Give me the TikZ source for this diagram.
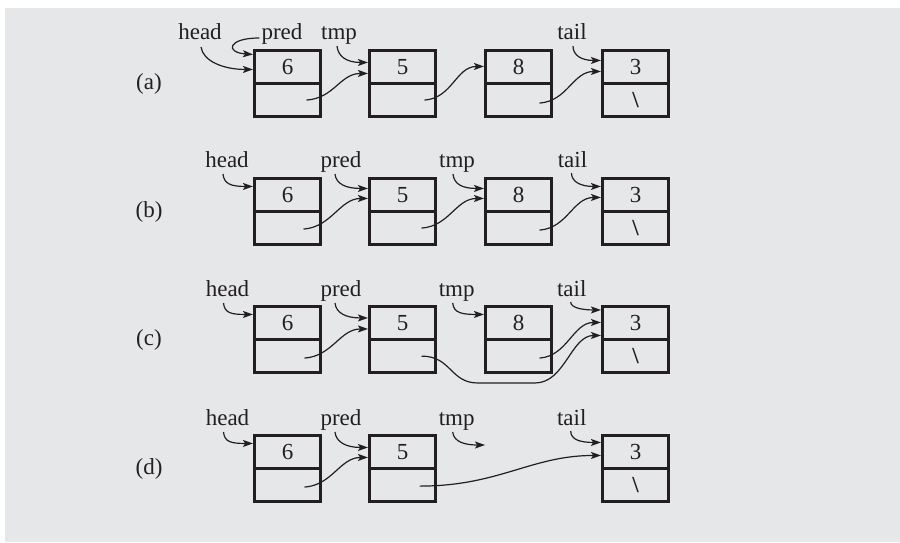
\documentclass[tikz,border=0pt]{standalone}
\usepackage{fontspec}
\setmainfont{Liberation Serif}
\usetikzlibrary{arrows.meta}
\definecolor{bg}{HTML}{E6E7E9}
\definecolor{ink}{HTML}{231F20}
\tikzset{
 cell/.style={draw=ink,line width=1.1pt,minimum width=65pt,minimum height=32pt,inner sep=0pt,font=\fontsize{23}{27}\selectfont,text=ink},
 frame/.style={draw=ink,line width=3pt},
 lbl/.style={inner sep=0pt,anchor=base,font=\fontsize{23}{27}\selectfont,text=ink},
 ptr/.style={draw=ink,line width=1.2pt,-{Stealth[length=10pt,width=7pt,inset=2.2pt]}},
}
\newcommand\lnode[4]{%
 \node[cell] (#1v) at (#2,#3) {#4};
 \node[cell,anchor=north] (#1p) at (#1v.south) {};
 \draw[frame] (#1v.north west) rectangle (#1p.south east);}
\newcommand\lastval{\bfseries\textbackslash}
\begin{document}
\begin{tikzpicture}[x=1pt,y=-1pt]
\useasboundingbox (0,0) rectangle (900,542);
\fill[bg] (5,8) rectangle (900,542);

% ---------- row (a)
\node[lbl,anchor=center] (la) at (149,84) {(a)};
\lnode{a1}{287.5}{67}{6}
\lnode{a2}{402.5}{67}{5}
\lnode{a3}{518.5}{67}{8}
\lnode{a4}{635.5}{67}{3}
\node[cell,draw=none] (a4x) at (a4p) {\lastval};
\node[lbl] (ha) at (200,39) {head};
\node[lbl] (pa) at (282,39) {pred};
\node[lbl] (ta) at (339,39) {tmp};
\node[lbl] (tla) at (572,39) {tail};
\draw[ptr] ([xshift=1pt,yshift=-8pt]ha.base) .. controls +(2,14) and +(-30,0) .. ([xshift=-1.5pt,yshift=-19pt]a1v.north west);
\draw[ptr] ([xshift=-2pt,yshift=1pt]pa.base west) .. controls +(-32,0) and +(-28,-2) .. ([xshift=-1.5pt,yshift=-4pt]a1v.north west);
\draw[ptr] ([xshift=-2pt,yshift=-7pt]ta.base) .. controls +(1,10) and +(-22,0) .. ([xshift=-1.5pt,yshift=-12pt]a2v.north west);
\draw[ptr] ([xshift=19pt]a1p.center) .. controls +(28,-2) and +(-28,0) .. ([xshift=-1.5pt,yshift=-23pt]a2v.north west);
\draw[ptr] ([xshift=22pt]a2p.center) .. controls +(28,-2) and +(-28,0) .. ([xshift=-1.5pt,yshift=-16pt]a3v.north west);
\draw[ptr] ([xshift=21pt,yshift=-3pt]a3p.center) .. controls +(28,-2) and +(-28,0) .. ([xshift=-1.5pt,yshift=-21pt]a4v.north west);
\draw[ptr] ([xshift=1pt,yshift=-7pt]tla.base) .. controls +(0,9) and +(-20,0) .. ([xshift=-1.5pt,yshift=-10pt]a4v.north west);

% ---------- row (b)
\node[lbl,anchor=center] (lb) at (149,212) {(b)};
\lnode{b1}{287.5}{195}{6}
\lnode{b2}{402.5}{195}{5}
\lnode{b3}{518.5}{195}{8}
\lnode{b4}{635.5}{195}{3}
\node[cell,draw=none] (b4x) at (b4p) {\lastval};
\node[lbl] (hb) at (227,167) {head};
\node[lbl] (pb) at (341,167) {pred};
\node[lbl] (tb) at (457,167) {tmp};
\node[lbl] (tlb) at (572.5,167) {tail};
\draw[ptr] ([xshift=-4pt,yshift=-7pt]hb.base) .. controls +(1,10) and +(-22,0) .. ([xshift=-1.5pt,yshift=-8pt]b1v.north west);
\draw[ptr] ([xshift=-6pt,yshift=-7pt]pb.base) .. controls +(1,10) and +(-22,0) .. ([xshift=-1.5pt,yshift=-10pt]b2v.north west);
\draw[ptr] ([xshift=-4pt,yshift=-7pt]tb.base) .. controls +(1,10) and +(-22,0) .. ([xshift=-1.5pt,yshift=-10pt]b3v.north west);
\draw[ptr] ([xshift=-1pt,yshift=-6pt]tlb.base) .. controls +(0,9) and +(-20,0) .. ([xshift=-1.5pt,yshift=-8pt]b4v.north west);
\draw[ptr] ([xshift=16pt,yshift=-1pt]b1p.center) .. controls +(28,-2) and +(-28,0) .. ([xshift=-1.5pt,yshift=-20pt]b2v.north west);
\draw[ptr] ([xshift=19pt]b2p.center) .. controls +(28,-2) and +(-28,0) .. ([xshift=-1.5pt,yshift=-20pt]b3v.north west);
\draw[ptr] ([xshift=21pt,yshift=-2pt]b3p.center) .. controls +(28,-2) and +(-28,0) .. ([xshift=-1.5pt,yshift=-19pt]b4v.north west);

% ---------- row (c)
\node[lbl,anchor=center] (lc) at (149,340) {(c)};
\lnode{c1}{287.5}{323}{6}
\lnode{c2}{402.5}{323}{5}
\lnode{c3}{518.5}{323}{8}
\lnode{c4}{635.5}{323}{3}
\node[cell,draw=none] (c4x) at (c4p) {\lastval};
\node[lbl] (hc) at (227.5,296) {head};
\node[lbl] (pc) at (341,296) {pred};
\node[lbl] (tc) at (456.7,296) {tmp};
\node[lbl] (tlc) at (571.7,296) {tail};
\coordinate (cbendA) at (478,383);
\coordinate (cbendB) at (535,383);
\draw[ptr] ([xshift=-4pt,yshift=-7pt]hc.base) .. controls +(1,10) and +(-22,0) .. ([xshift=-1.5pt,yshift=-8pt]c1v.north west);
\draw[ptr] ([xshift=-6pt,yshift=-7pt]pc.base) .. controls +(1,10) and +(-22,0) .. ([xshift=-1.5pt,yshift=-11.5pt]c2v.north west);
\draw[ptr] ([xshift=-4pt,yshift=-7pt]tc.base) .. controls +(1,10) and +(-22,0) .. ([xshift=-1.5pt,yshift=-8pt]c3v.north west);
\draw[ptr] ([xshift=-1pt,yshift=-6pt]tlc.base) .. controls +(0,6) and +(-18,0) .. ([xshift=-1.5pt,yshift=-3.5pt]c4v.north west);
\draw[ptr] ([xshift=17pt,yshift=-2pt]c1p.center) .. controls +(28,-2) and +(-28,0) .. ([xshift=-1.5pt,yshift=-22.5pt]c2v.north west);
\draw[ptr] ([xshift=21pt,yshift=-2pt]c3p.center) .. controls +(28,-2) and +(-28,0) .. ([xshift=-1.5pt,yshift=-16pt]c4v.north west);
\draw[ptr] ([xshift=19pt]c2p.center) .. controls +(30,0) and +(-28,0) .. (cbendA) -- (cbendB) .. controls +(30,0) and +(-30,0) .. ([xshift=-1.5pt,yshift=-29pt]c4v.north west);

% ---------- row (d)
\node[lbl,anchor=center] (ld) at (149,469) {(d)};
\lnode{d1}{287.5}{452}{6}
\lnode{d2}{402.5}{452}{5}
\lnode{d4}{635.5}{452}{3}
\node[cell,draw=none] (d4x) at (d4p) {\lastval};
\node[lbl] (hd) at (227.5,425) {head};
\node[lbl] (pd) at (341,425) {pred};
\node[lbl] (td) at (456.7,425) {tmp};
\node[lbl] (tld) at (571.7,425) {tail};
\coordinate (tdend) at (485,445);
\draw[ptr] ([xshift=-4pt,yshift=-7pt]hd.base) .. controls +(1,10) and +(-22,0) .. ([xshift=-1.5pt,yshift=-8pt]d1v.north west);
\draw[ptr] ([xshift=-6pt,yshift=-7pt]pd.base) .. controls +(1,10) and +(-22,0) .. ([xshift=-1.5pt,yshift=-12pt]d2v.north west);
\draw[ptr] ([xshift=-4pt,yshift=-7pt]td.base) .. controls +(1,10) and +(-20,0) .. (tdend);
\draw[ptr] ([xshift=-1pt,yshift=-6pt]tld.base) .. controls +(0,9) and +(-20,0) .. ([xshift=-1.5pt,yshift=-7pt]d4v.north west);
\draw[ptr] ([xshift=17pt,yshift=-2pt]d1p.center) .. controls +(28,-2) and +(-28,0) .. ([xshift=-1.5pt,yshift=-22pt]d2v.north west);
\draw[ptr] ([xshift=17pt,yshift=-1pt]d2p.center) .. controls +(80,0) and +(-70,0) .. ([xshift=-1.5pt,yshift=-20pt]d4v.north west);
\end{tikzpicture}
\end{document}
